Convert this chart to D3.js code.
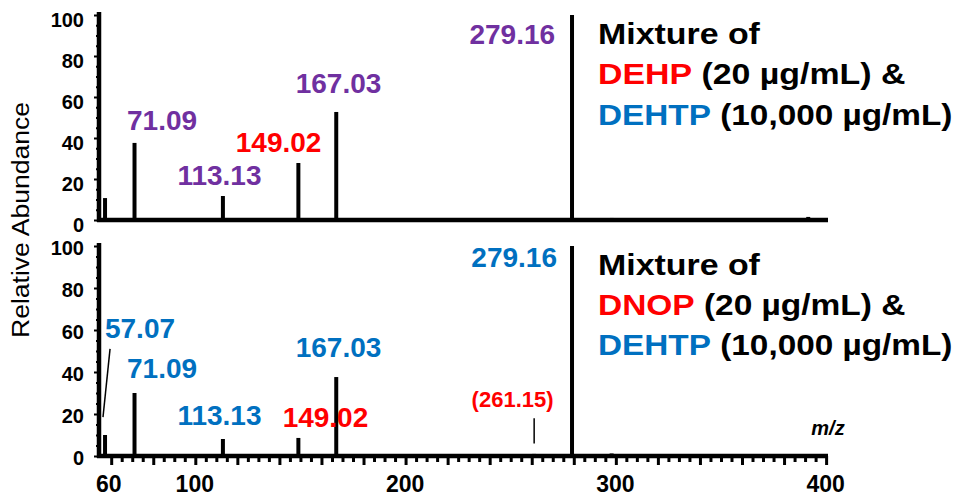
<!DOCTYPE html>
<html><head><meta charset="utf-8">
<script src="https://cdn.jsdelivr.net/npm/d3@7"></script>
<style>body{margin:0;background:#fff}svg{display:block}</style>
</head><body><svg id="chart" width="959" height="499"></svg>
<script>
// ---------------- data ----------------
const mzTop = [57.07, 71.09, 113.13, 149.02, 167.03, 279.16, 298.0, 391.5];
const intensityTop = [10.7, 37.6, 11.7, 27.8, 52.7, 100, 1.0, 1.5];
const mzBottom = [57.07, 71.09, 97.0, 113.13, 149.02, 167.03, 261.15, 279.16, 298.0];
const intensityBottom = [10.0, 30.0, 0.8, 8.1, 8.6, 37.6, 1.0, 100, 1.2];
const labelsTop = ["71.09", "113.13", "149.02", "167.03", "279.16"];
const labelsBottom = ["57.07", "71.09", "113.13", "149.02", "167.03", "279.16", "(261.15)"];
const yTickValues = [0, 20, 40, 60, 80, 100];
const xTickValues = [60, 100, 200, 300, 400];
const legendTop = [["Mixture of"], ["DEHP", " (20 µg/mL) &"], ["DEHTP", " (10,000 µg/mL)"]];
const legendBottom = [["Mixture of"], ["DNOP", " (20 µg/mL) &"], ["DEHTP", " (10,000 µg/mL)"]];

// ---------------- styles / layout ----------------
const PURPLE = "#7030A0", RED = "#FF0000", BLUE = "#0070C0", BLACK = "#000";
const FONT = "'Liberation Sans', Arial, Helvetica, sans-serif";
// label placement (anchor m/z, baseline intensity, anchor, colour)
const layoutTop = [
  [84.2, 43.9, "middle", PURPLE],
  [111.5, 17.1, "middle", PURPLE],
  [139.6, 33.2, "middle", RED],
  [168.1, 62.0, "middle", PURPLE],
  [271.1, 85.9, "end", PURPLE]
];
const layoutBottom = [
  [73.7, 56.2, "middle", BLUE],
  [84.2, 37.1, "middle", BLUE],
  [111.5, 14.8, "middle", BLUE],
  [161.9, 13.8, "middle", RED],
  [168.1, 47.1, "middle", BLUE],
  [272.0, 90.0, "end", BLUE],
  [250.9, 23.3, "middle", RED]
];

const svg = d3.select("#chart");
svg.append("rect").attr("width", 959).attr("height", 499).attr("fill", "#fff");

const x = d3.scaleLinear().domain([54.2, 400.9]).range([99, 828]);
const yTop = d3.scaleLinear().domain([0, 100]).range([220, 15]);
const yBot = d3.scaleLinear().domain([0, 100]).range([456, 246]);

function stretchText(g, target) {
  const t = g.select("text");
  const w = t.node().getComputedTextLength();
  if (target && w > 0) {
    const cur = g.attr("transform") || "";
    g.attr("transform", cur + ` scale(${target / w},1)`);
  }
}

function yAxis(y, labelShift) {
  const ax = d3.axisLeft(y)
    .tickValues(d3.range(0, 101, 5))
    .tickSize(5).tickPadding(10)
    .tickFormat(d => yTickValues.includes(d) ? d : "");
  const g = svg.append("g").attr("transform", `translate(${x.range()[0]},0)`).call(ax);
  g.select(".domain").remove();
  g.selectAll(".tick line")
    .attr("x2", d => yTickValues.includes(d) ? -5 : -3)
    .attr("stroke", BLACK).attr("stroke-width", 2);
  g.selectAll(".tick text")
    .attr("font-family", FONT).attr("font-size", 20).attr("font-weight", "bold")
    .attr("fill", BLACK).attr("dy", (0.36 * 20 + labelShift) + "px");
  svg.append("line")
    .attr("x1", x.range()[0]).attr("x2", x.range()[0])
    .attr("y1", y.range()[1] - 3).attr("y2", y.range()[0] + 2)
    .attr("stroke", BLACK).attr("stroke-width", 4.5);
}

function baseline(y) {
  svg.append("line")
    .attr("x1", x.range()[0] - 2).attr("x2", x.range()[1])
    .attr("y1", y(0)).attr("y2", y(0))
    .attr("stroke", BLACK).attr("stroke-width", 4.5);
}

function peaks(mz, inten, y) {
  svg.append("g").selectAll("line").data(mz.map((m, i) => ({ m, v: inten[i] })))
    .join("line")
    .attr("x1", d => x(d.m)).attr("x2", d => x(d.m))
    .attr("y1", y(0)).attr("y2", d => y(d.v))
    .attr("stroke", BLACK).attr("stroke-width", 4);
}

function peakLabels(labels, layout, y) {
  labels.forEach((lab, i) => {
    const [m, v, anchor, col] = layout[i];
    const small = lab.startsWith("(");
    svg.append("text")
      .attr("x", x(m)).attr("y", y(v))
      .attr("text-anchor", anchor)
      .attr("font-family", FONT).attr("font-weight", "bold")
      .attr("font-size", small ? 22 : 28)
      .attr("fill", col)
      .text(lab);
  });
}

function legend(lines, baselines) {
  const widths = [162, 307, 354];
  lines.forEach((parts, i) => {
    const g = svg.append("g").attr("transform", `translate(598,${baselines[i]})`);
    const t = g.append("text").attr("font-family", FONT).attr("font-weight", "bold")
      .attr("font-size", 29).attr("fill", BLACK);
    parts.forEach((p, j) => {
      t.append("tspan").attr("fill", j === 0 && parts.length > 1 ? (i === 1 ? RED : BLUE) : BLACK).text(p);
    });
    stretchText(g, widths[i]);
  });
}

// ---- top panel ----
yAxis(yTop, 4);
baseline(yTop);
peaks(mzTop, intensityTop, yTop);
peakLabels(labelsTop, layoutTop, yTop);
legend(legendTop, [44, 84, 125]);

// ---- bottom panel ----
yAxis(yBot, 1);
const xAx = d3.axisBottom(x)
  .tickValues(d3.range(60, 401, 5))
  .tickSize(8).tickPadding(12)
  .tickFormat(d => xTickValues.includes(d) ? d : "");
const gx = svg.append("g").attr("transform", `translate(0,${yBot(0)})`).call(xAx);
gx.select(".domain").remove();
gx.selectAll(".tick line")
  .attr("y2", d => d % 20 === 0 ? 9 : 6)
  .attr("stroke", BLACK).attr("stroke-width", 3);
gx.selectAll(".tick text")
  .attr("font-family", FONT).attr("font-size", 23).attr("font-weight", "bold").attr("fill", BLACK)
  .attr("dx", d => d === 60 ? "-3px" : "-1px");
baseline(yBot);
peaks(mzBottom, intensityBottom, yBot);
peakLabels(labelsBottom, layoutBottom, yBot);
legend(legendBottom, [275, 315, 355]);

// leader line for 57.07 and marker for (261.15)
svg.append("line")
  .attr("x1", x(59.45)).attr("y1", yBot(51))
  .attr("x2", x(56.1)).attr("y2", yBot(18.5))
  .attr("stroke", BLACK).attr("stroke-width", 1.5);
svg.append("line")
  .attr("x1", x(261.15)).attr("y1", yBot(18))
  .attr("x2", x(261.15)).attr("y2", yBot(6))
  .attr("stroke", BLACK).attr("stroke-width", 1.5);

// m/z label
svg.append("text")
  .attr("x", x(400.9)).attr("y", yBot(10))
  .attr("text-anchor", "middle")
  .attr("font-family", FONT).attr("font-weight", "bold").attr("font-style", "italic")
  .attr("font-size", 20).attr("fill", BLACK).text("m/z");

// y axis title
const gt = svg.append("g").attr("transform", "translate(29,220) rotate(-90)");
gt.append("text").attr("text-anchor", "middle")
  .attr("font-family", FONT).attr("font-size", 23).attr("fill", BLACK)
  .text("Relative Abundance");
stretchText(gt, 236);
</script></body></html>
